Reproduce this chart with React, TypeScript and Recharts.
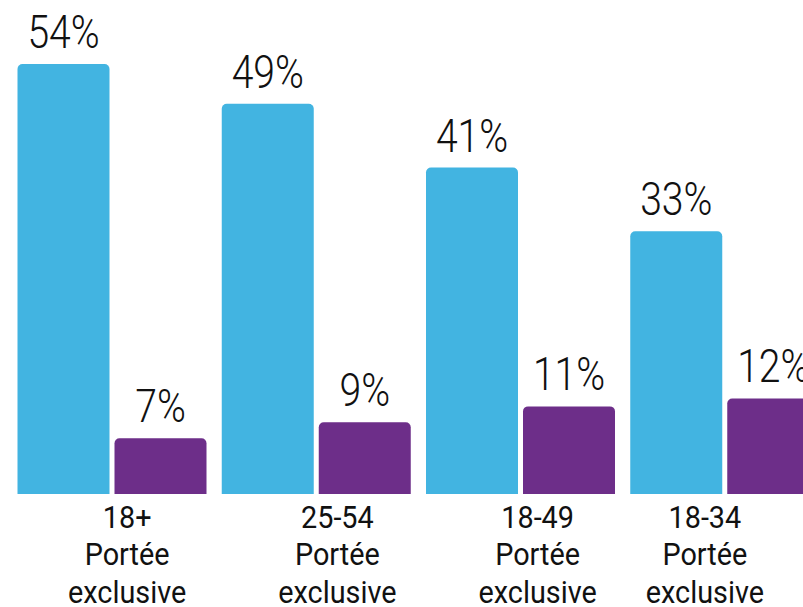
import React from "react";
import { BarChart, Bar, XAxis, YAxis, LabelList } from "recharts";

const categories = ["18+", "25-54", "18-49", "18-34"];
const subLabelLine1 = "Portée";
const subLabelLine2 = "exclusive";
const totalReach = [54, 49, 41, 33];
const exclusiveReach = [7, 9, 11, 12];

const data = categories.map((c, i) => ({
  name: c,
  total: totalReach[i],
  exclusive: exclusiveReach[i],
}));

const FONT = "Roboto, 'DejaVu Sans', sans-serif";
const TICK_SHIFT = [15, 21, 17, -20];

const Tick = (props: any) => {
  const { x, y, payload, index } = props;
  const cx = x + (TICK_SHIFT[index] ?? 0);
  return (
    <g transform={`translate(${cx}, ${y}) scale(0.9, 1)`}>
      <text x={0} y={0} textAnchor="middle" fill="#111" fontFamily={FONT} fontSize={32} fontWeight={400}>
        <tspan x={0} dy={26}>{payload.value}</tspan>
        <tspan x={0} dy={37}>{subLabelLine1}</tspan>
        <tspan x={0} dy={38}>{subLabelLine2}</tspan>
      </text>
    </g>
  );
};

const ValueLabel = (props: any) => {
  const { x, y, width, value } = props;
  const cx = Number(x) + Number(width) / 2;
  return (
    <g transform={`translate(${cx}, ${Number(y) - 16}) scale(0.85, 1)`}>
      <text x={0} y={0} textAnchor="middle" fill="#111" fontFamily={FONT} fontSize={46} fontWeight={300}>
        {`${value}%`}
      </text>
    </g>
  );
};

export default function App() {
  return (
    <div style={{ position: "absolute", left: 0, top: 0, width: 803, height: 607, overflow: "hidden", background: "#fff" }}>
      <BarChart
        width={827}
        height={607}
        data={data}
        margin={{ top: 64, right: 0, bottom: 0, left: 10 }}
        barCategoryGap={7.5}
        barGap={5}
      >
        <XAxis dataKey="name" axisLine={false} tickLine={false} height={113} tick={<Tick />} interval={0} />
        <YAxis hide domain={[0, 54]} />
        <Bar dataKey="total" fill="#42b4e1" radius={[5, 5, 0, 0]} isAnimationActive={false}>
          <LabelList dataKey="total" content={<ValueLabel />} />
        </Bar>
        <Bar dataKey="exclusive" fill="#6d2e89" radius={[5, 5, 0, 0]} isAnimationActive={false}>
          <LabelList dataKey="exclusive" content={<ValueLabel />} />
        </Bar>
      </BarChart>
    </div>
  );
}
